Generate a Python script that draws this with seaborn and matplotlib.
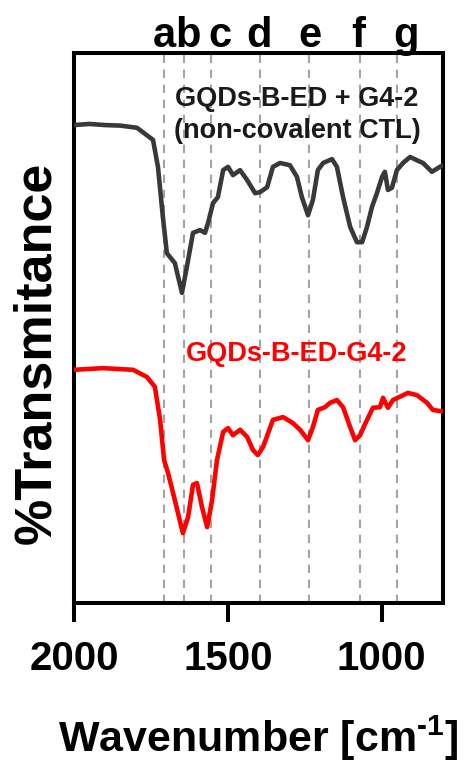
import numpy as np
import pandas as pd
import matplotlib
matplotlib.use("Agg")
import matplotlib.pyplot as plt
import seaborn as sns

# FTIR spectra, wavenumber in cm^-1, transmittance in arbitrary % units
ctl_wn = [2000, 1950, 1900, 1850, 1795, 1743, 1727, 1711, 1698, 1672, 1649, 1633,
          1613, 1590, 1574, 1564, 1548, 1532, 1515, 1499, 1483, 1460, 1437, 1411,
          1395, 1372, 1353, 1330, 1298, 1275, 1259, 1239, 1223, 1207, 1190, 1161,
          1145, 1125, 1102, 1080, 1063, 1047, 1031, 1015, 998, 989, 979, 966, 950,
          930, 907, 885, 865, 836, 810, 800]
ctl_t = [86.9, 87.1, 86.9, 86.8, 86.4, 84.2, 79.3, 70.2, 63.6, 61.8, 56.4, 61.1,
         67.3, 67.8, 67.3, 69.1, 72.7, 73.8, 78.7, 79.3, 77.8, 78.7, 76.9, 74.5,
         74.7, 75.6, 79.3, 80.0, 79.6, 77.5, 73.8, 70.5, 73.3, 78.7, 80.0, 80.7,
         79.3, 73.8, 68.4, 65.6, 65.6, 68.4, 72.0, 74.5, 77.5, 78.4, 75.1, 75.5,
         78.7, 80.0, 81.1, 80.5, 80.0, 78.4, 79.3, 79.6]

cov_wn = [2000, 1906, 1808, 1763, 1737, 1720, 1707, 1694, 1672, 1646, 1629, 1613,
          1600, 1584, 1567, 1551, 1535, 1515, 1499, 1483, 1460, 1437, 1418, 1402,
          1385, 1353, 1320, 1288, 1265, 1239, 1223, 1207, 1184, 1167, 1145, 1125,
          1102, 1086, 1070, 1047, 1028, 1005, 995, 979, 963, 940, 914, 885, 852,
          833, 810, 800]
cov_t = [42.4, 42.7, 42.4, 41.1, 39.3, 33.3, 26.0, 23.6, 18.7, 12.7, 15.6, 21.5,
         21.8, 17.5, 13.8, 18.7, 26.0, 31.1, 31.8, 30.5, 31.5, 30.2, 27.8, 26.9,
         28.4, 33.3, 33.8, 32.7, 31.5, 29.6, 32.0, 35.1, 35.6, 36.4, 36.9, 35.6,
         32.0, 29.6, 30.5, 33.3, 35.5, 35.6, 37.3, 35.5, 36.9, 37.5, 38.2, 37.8,
         36.4, 35.1, 34.9, 34.9]

# assigned bands
band_wn = [1707, 1643, 1556, 1395, 1236, 1071, 951]
band_letters = ["a", "b", "c", "d", "e", "f", "g"]
letter_wn = [1707, 1629, 1525, 1398, 1233, 1076, 920]

xticks = [2000, 1500, 1000]

sns.set_theme(style="white")
plt.rcParams["font.family"] = ["Liberation Sans", "DejaVu Sans"]
plt.rcParams["font.weight"] = "bold"
plt.rcParams["text.color"] = "black"
plt.rcParams["axes.labelcolor"] = "black"
plt.rcParams["xtick.color"] = "black"
plt.rcParams["mathtext.fontset"] = "custom"
plt.rcParams["mathtext.rm"] = "Liberation Sans:bold"
plt.rcParams["mathtext.bf"] = "Liberation Sans:bold"
plt.rcParams["mathtext.it"] = "Liberation Sans:bold"

fig = plt.figure(figsize=(4.71, 7.65), dpi=100)
ax = fig.add_axes([74 / 471, 1 - 603 / 765, (443 - 74) / 471, (603 - 53) / 765])

for w in band_wn:
    ax.axvline(w, color="#a3a3a3", lw=1.5, ls=(0, (4, 3.2)), zorder=1)

df_ctl = pd.DataFrame({"wn": ctl_wn, "T": ctl_t})
df_cov = pd.DataFrame({"wn": cov_wn, "T": cov_t})
sns.lineplot(data=df_ctl, x="wn", y="T", sort=False, estimator=None,
             color="#393939", lw=3.3, ax=ax, zorder=3)
sns.lineplot(data=df_cov, x="wn", y="T", sort=False, estimator=None,
             color="#ff0000", lw=3.3, ax=ax, zorder=3)
for line in ax.get_lines():
    line.set_solid_joinstyle("round")
    line.set_solid_capstyle("round")

ax.set_xlim(2000, 800)
ax.set_ylim(0, 100)
ax.set_xticks(xticks)
ax.set_xticklabels([str(t) for t in xticks])
ax.set_yticks([])
ax.tick_params(axis="x", direction="out", length=14, width=2.9, pad=13,
               labelsize=29, labelcolor="black", bottom=True, top=False)
for lab in ax.get_xticklabels():
    lab.set_fontweight("bold")
for s in ax.spines.values():
    s.set_linewidth(2.9)
    s.set_color("black")

ax.set_xlabel(r"Wavenumber [cm$^{\text{-1}}$]", fontsize=31, fontweight="bold",
              color="black", labelpad=25)
ax.set_ylabel("%Transmitance", fontsize=37.5, fontweight="bold", color="black")
ax.yaxis.set_label_coords(-0.035, 0.455)

trans = ax.get_xaxis_transform()
for w, lab in zip(letter_wn, band_letters):
    ax.text(w, 1.011, lab, transform=trans, ha="center", va="baseline",
            fontsize=30, fontweight="bold", color="black")

ax.text(1275, 0.888, "GQDs-B-ED + G4-2\n(non-covalent CTL)", transform=trans,
        ha="center", va="center", fontsize=19.5, fontweight="bold",
        color="#1a1a1a", linespacing=1.3)
ax.text(1275, 0.453, "GQDs-B-ED-G4-2", transform=trans, ha="center",
        va="center", fontsize=19.5, fontweight="bold", color="#ff0000")

fig.savefig("out.png", dpi=100)
